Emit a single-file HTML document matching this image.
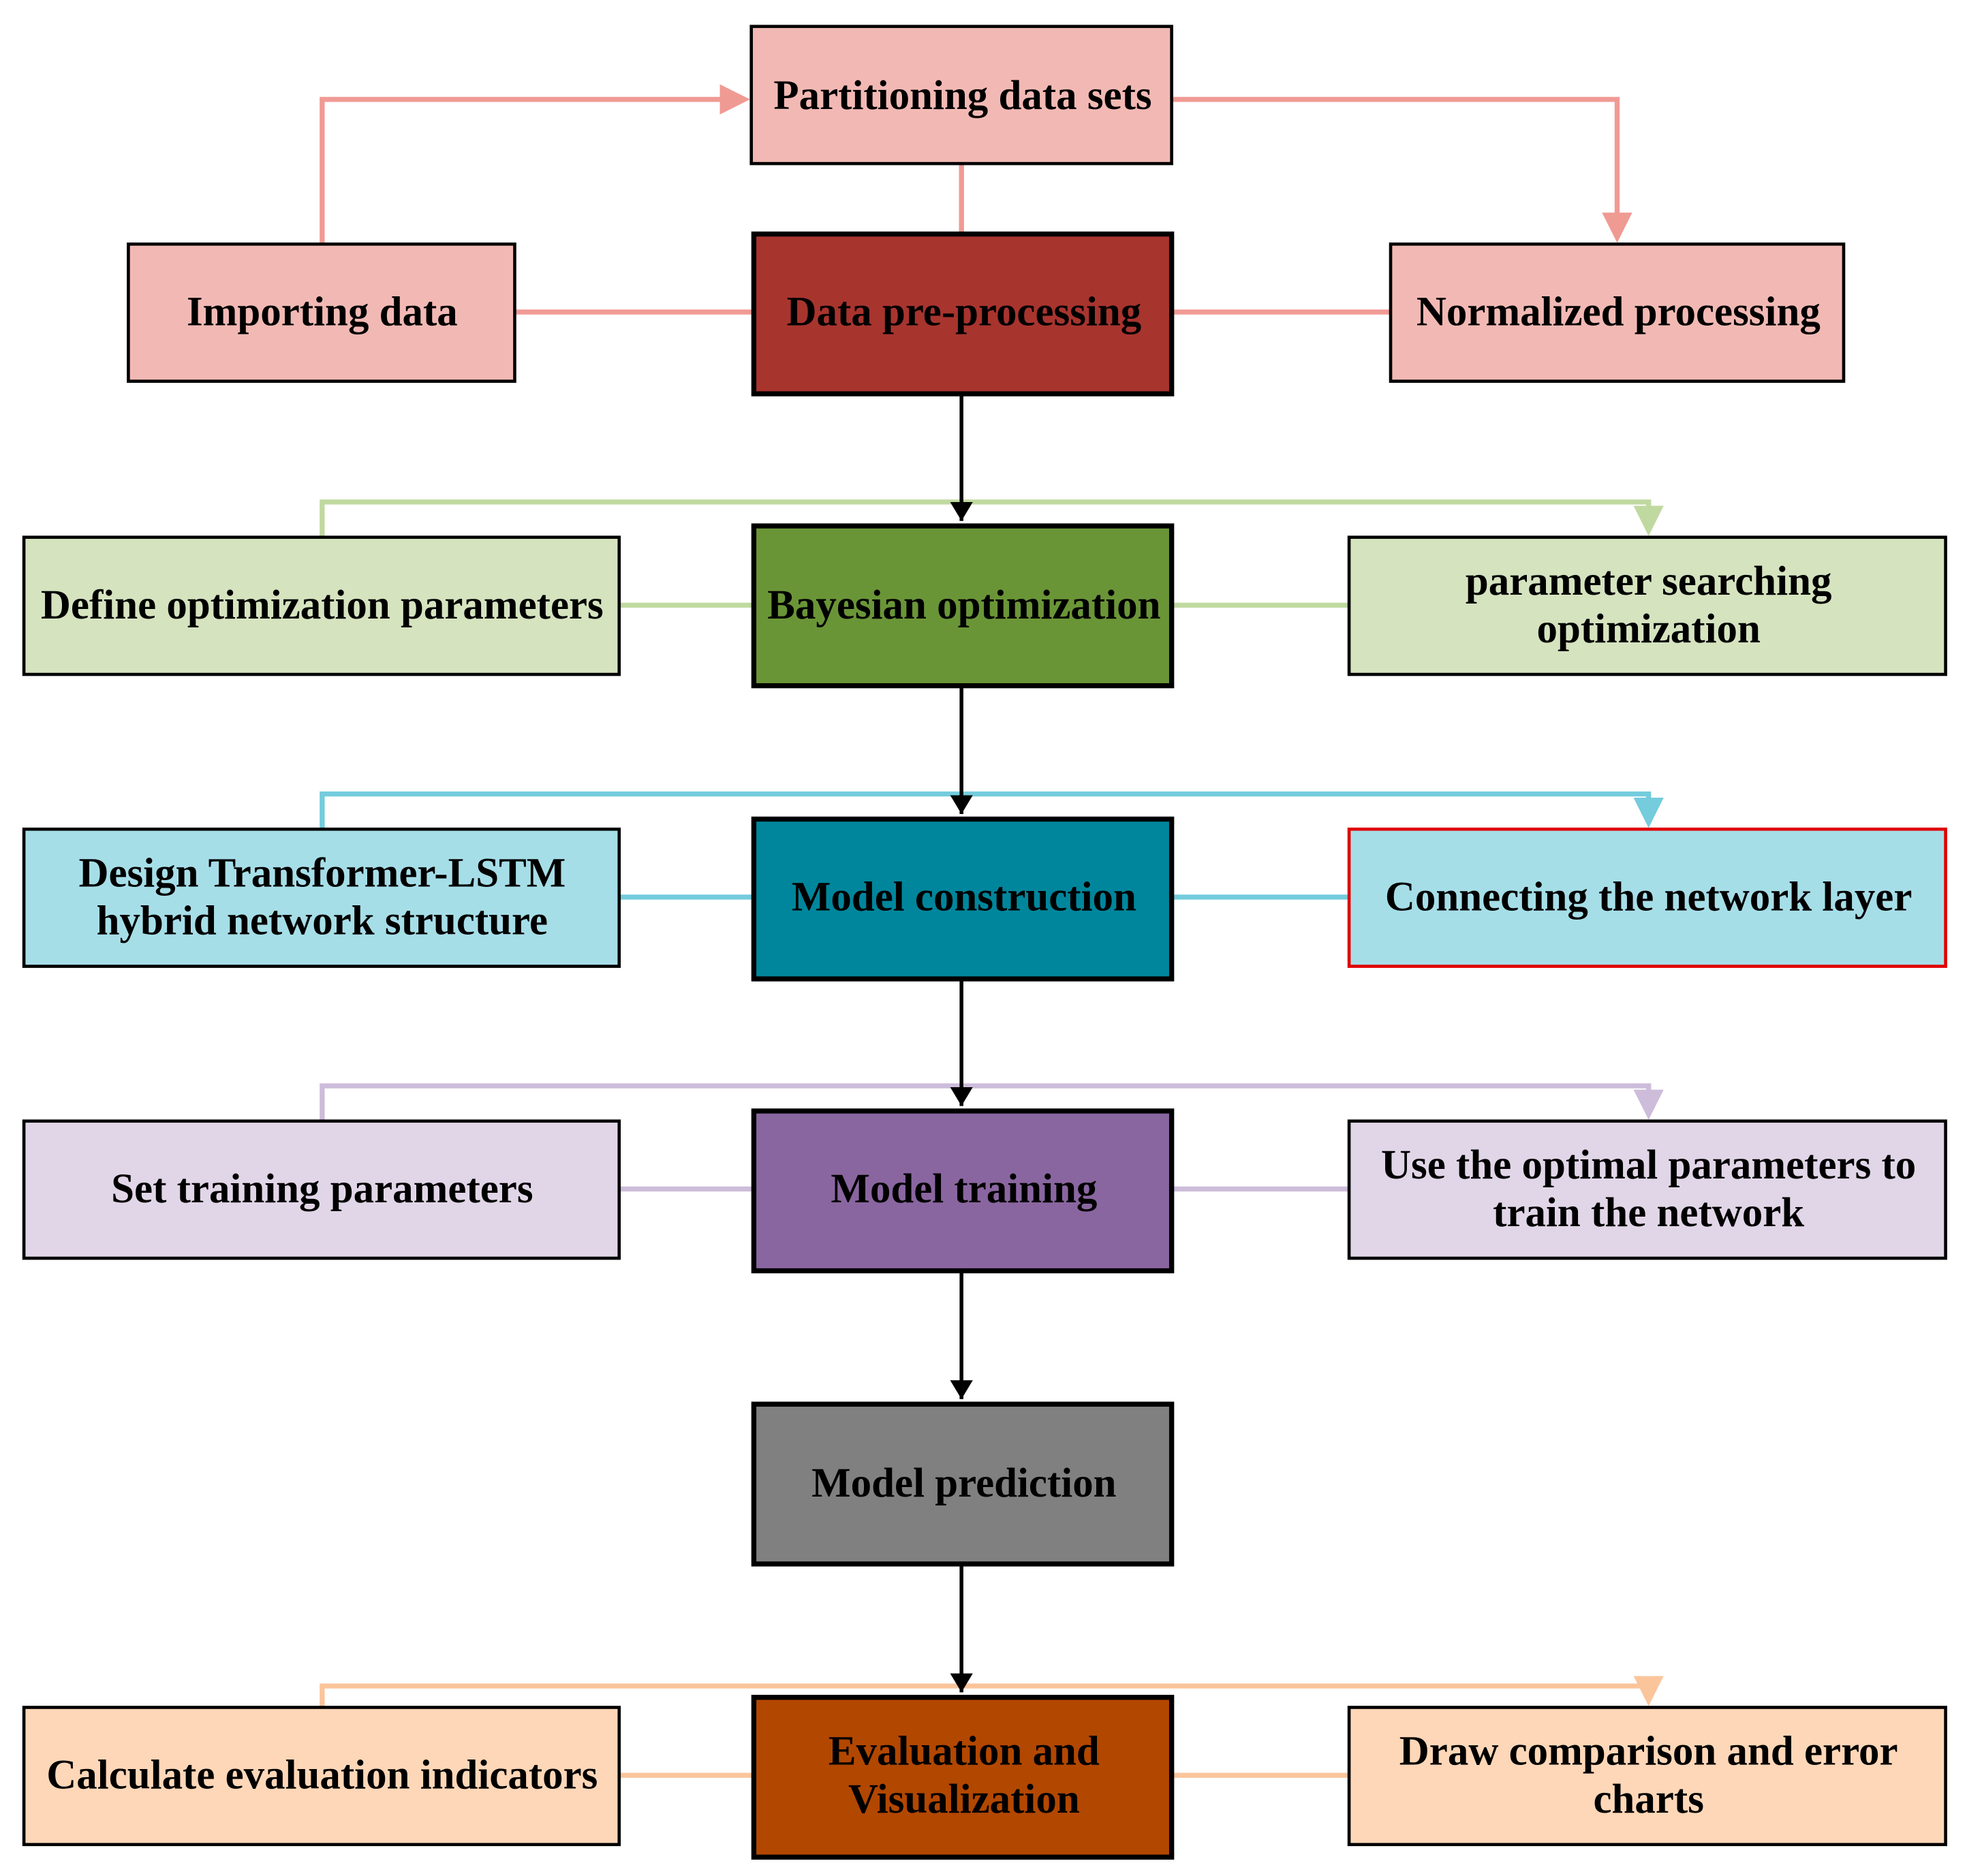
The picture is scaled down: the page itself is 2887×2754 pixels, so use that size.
<!DOCTYPE html>
<html><head><meta charset="utf-8"><style>
html,body{margin:0;padding:0;background:#fff;}
svg{display:block;}
text{font-family:"Liberation Serif",serif;font-weight:bold;font-size:33px;fill:#000;text-anchor:middle;dominant-baseline:central;}
</style></head><body>
<svg width="2887" height="2754" viewBox="0 0 1563 1491" xmlns="http://www.w3.org/2000/svg">
<defs>
<marker id="ap" markerWidth="6" markerHeight="6" refX="5" refY="3" orient="auto" markerUnits="strokeWidth"><path d="M0,0 L6,3 L0,6z" fill="#F09A94"/></marker>
<marker id="ag" markerWidth="6" markerHeight="6" refX="5" refY="3" orient="auto" markerUnits="strokeWidth"><path d="M0,0 L6,3 L0,6z" fill="#C0D9A0"/></marker>
<marker id="ab" markerWidth="6" markerHeight="6" refX="5" refY="3" orient="auto" markerUnits="strokeWidth"><path d="M0,0 L6,3 L0,6z" fill="#74CCDC"/></marker>
<marker id="au" markerWidth="6" markerHeight="6" refX="5" refY="3" orient="auto" markerUnits="strokeWidth"><path d="M0,0 L6,3 L0,6z" fill="#CDBCDA"/></marker>
<marker id="ao" markerWidth="6" markerHeight="6" refX="5" refY="3" orient="auto" markerUnits="strokeWidth"><path d="M0,0 L6,3 L0,6z" fill="#FBC59B"/></marker>
<marker id="ak" markerWidth="5" markerHeight="6" refX="5" refY="3" orient="auto" markerUnits="strokeWidth"><path d="M0,0 L5,3 L0,6z" fill="#000"/></marker>
</defs>
<g fill="none" stroke-width="4">
<path d="M256,194 V79 H592" stroke="#F09A94" marker-end="url(#ap)"/>
<path d="M931,79 H1285 V189" stroke="#F09A94" marker-end="url(#ap)"/>
<path d="M764,130 V185 M409,248 H599 M931,248 H1105" stroke="#F09A94"/>
<path d="M256,427 V399 H1310 V422" stroke="#C0D9A0" marker-end="url(#ag)"/>
<path d="M492,481 H599 M931,481 H1072" stroke="#C0D9A0"/>
<path d="M256,659 V631 H1310 V654" stroke="#74CCDC" marker-end="url(#ab)"/>
<path d="M492,713 H599 M931,713 H1072" stroke="#74CCDC"/>
<path d="M256,891 V863 H1310 V886" stroke="#CDBCDA" marker-end="url(#au)"/>
<path d="M492,945 H599 M931,945 H1072" stroke="#CDBCDA"/>
<path d="M256,1357 V1340 H1310 V1352" stroke="#FBC59B" marker-end="url(#ao)"/>
<path d="M492,1411 H599 M931,1411 H1072" stroke="#FBC59B"/>
</g>
<g fill="none" stroke="#000" stroke-width="3" marker-end="url(#ak)">
<path d="M764,314 V414"/>
<path d="M764,545 V647"/>
<path d="M764,778 V879"/>
<path d="M764,1010 V1112"/>
<path d="M764,1243 V1345"/>
</g>
<g stroke="#000" stroke-width="2.5">
<rect x="597" y="21" width="334" height="109" fill="#F2B9B4"/>
<rect x="102" y="194" width="307" height="109" fill="#F2B9B4"/>
<rect x="1105" y="194" width="360" height="109" fill="#F2B9B4"/>
<rect x="19" y="427" width="473" height="109" fill="#D5E3BF"/>
<rect x="1072" y="427" width="474" height="109" fill="#D5E3BF"/>
<rect x="19" y="659" width="473" height="109" fill="#A6DEE8"/>
<rect x="1072" y="659" width="474" height="109" fill="#A6DEE8" stroke="#E00000"/>
<rect x="19" y="891" width="473" height="109" fill="#E1D6E7"/>
<rect x="1072" y="891" width="474" height="109" fill="#E1D6E7"/>
<rect x="19" y="1357" width="473" height="109" fill="#FED7B8"/>
<rect x="1072" y="1357" width="474" height="109" fill="#FED7B8"/>
</g>
<g stroke="#000" stroke-width="4">
<rect x="599" y="186" width="332" height="127" fill="#A8342E"/>
<rect x="599" y="418" width="332" height="127" fill="#6A9537"/>
<rect x="599" y="651" width="332" height="127" fill="#00869C"/>
<rect x="599" y="883" width="332" height="127" fill="#8A66A0"/>
<rect x="599" y="1116" width="332" height="127" fill="#808080"/>
<rect x="599" y="1349" width="332" height="127" fill="#B24700"/>
</g>
<text x="765" y="76">Partitioning data sets</text>
<text x="256" y="248">Importing data</text>
<text x="766" y="248">Data pre-processing</text>
<text x="1286" y="248">Normalized processing</text>
<text x="256" y="481">Define optimization parameters</text>
<text x="766" y="481">Bayesian optimization</text>
<text x="1310" y="462">parameter searching</text>
<text x="1310" y="500">optimization</text>
<text x="256" y="694">Design Transformer-LSTM</text>
<text x="256" y="732">hybrid network structure</text>
<text x="766" y="713">Model construction</text>
<text x="1310" y="713">Connecting the network layer</text>
<text x="256" y="945">Set training parameters</text>
<text x="766" y="945">Model training</text>
<text x="1310" y="926">Use the optimal parameters to</text>
<text x="1310" y="964">train the network</text>
<text x="766" y="1179">Model prediction</text>
<text x="256" y="1411">Calculate evaluation indicators</text>
<text x="766" y="1392">Evaluation and</text>
<text x="766" y="1430">Visualization</text>
<text x="1310" y="1392">Draw comparison and error</text>
<text x="1310" y="1430">charts</text>
</svg>
</body></html>
